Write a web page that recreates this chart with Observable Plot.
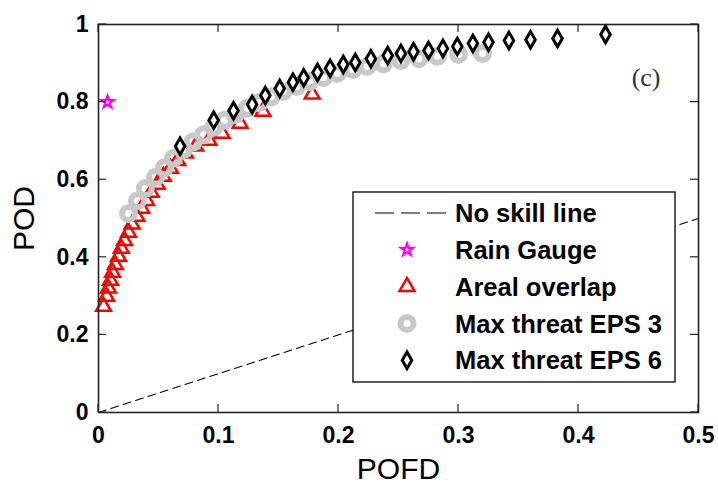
<!DOCTYPE html>
<html>
<head>
<meta charset="utf-8">
<script src="https://cdn.jsdelivr.net/npm/d3@7"></script>
<script src="https://cdn.jsdelivr.net/npm/@observablehq/plot@0.6"></script>
<style>
  body { margin: 0; background: #fff; }
  #chart svg { display: block; }
</style>
</head>
<body>
<div id="chart"></div>
<script>
// ---- data ----
const xTicks = [0, 0.1, 0.2, 0.3, 0.4, 0.5];
const yTicks = [0, 0.2, 0.4, 0.6, 0.8, 1];
const xLabel = "POFD";
const yLabel = "POD";
const panelLabel = "(c)";

const noSkillX = [0, 0.5];
const noSkillY = [0, 0.5];

const gaugeX = [0.0075];
const gaugeY = [0.80];

const arealX = [0.0042, 0.0067, 0.0083, 0.010, 0.0117, 0.014, 0.0167, 0.019, 0.0217, 0.025, 0.028, 0.032, 0.036,
  0.040, 0.044, 0.049, 0.054, 0.060, 0.066, 0.0725, 0.081, 0.092, 0.103, 0.118, 0.137, 0.178];
const arealY = [0.273, 0.299, 0.320, 0.340, 0.361, 0.381, 0.402, 0.423, 0.443, 0.464, 0.485, 0.505, 0.526,
  0.546, 0.567, 0.588, 0.608, 0.629, 0.649, 0.668, 0.686, 0.701, 0.719, 0.745, 0.776, 0.820];

const eps3X = [0.025, 0.0325, 0.039, 0.0475, 0.055, 0.0625, 0.071, 0.079, 0.0875, 0.096, 0.105, 0.114, 0.124, 0.134,
  0.144, 0.154, 0.165, 0.176, 0.1875, 0.199, 0.212, 0.224, 0.2375, 0.252, 0.267, 0.2825, 0.300, 0.320];
const eps3Y = [0.513, 0.546, 0.577, 0.606, 0.631, 0.655, 0.678, 0.698, 0.716, 0.735, 0.753, 0.768, 0.784, 0.799,
  0.814, 0.827, 0.840, 0.853, 0.863, 0.874, 0.884, 0.892, 0.899, 0.907, 0.912, 0.918, 0.923, 0.925];

const eps6X = [0.068, 0.096, 0.1125, 0.128, 0.139, 0.151, 0.162, 0.171, 0.1825, 0.193, 0.204, 0.214, 0.227, 0.241,
  0.252, 0.2625, 0.275, 0.287, 0.299, 0.312, 0.325, 0.342, 0.360, 0.3825, 0.4225];
const eps6Y = [0.686, 0.753, 0.778, 0.794, 0.817, 0.835, 0.851, 0.863, 0.876, 0.887, 0.897, 0.902, 0.912, 0.920,
  0.925, 0.930, 0.933, 0.938, 0.943, 0.951, 0.954, 0.959, 0.961, 0.964, 0.974];

const legendLabels = ["No skill line", "Rain Gauge", "Areal overlap", "Max threat EPS 3", "Max threat EPS 6"];

// ---- styles ----
const RED = "#ff0000", GRAY = "#c8c8c8", MAGENTA = "#ff00ff", INK = "#222";
const sans = "'Liberation Sans', Arial, sans-serif";

const pts = (xs, ys) => xs.map((x, i) => ({x, y: ys[i]}));

const styles = [
  {kind: "line"},
  {symbol: d3.symbolStar, r: 3.8, stroke: MAGENTA, sw: 2.2, fill: "none"},
  {symbol: d3.symbolTriangle, r: 5.5, stroke: RED, sw: 2.5, fill: "none"},
  {symbol: d3.symbolCircle, r: 6.5, stroke: GRAY, sw: 6, fill: "none"},
  {symbol: d3.symbolDiamond, r: 5, stroke: "#000", sw: 3, fill: "#fff"}
];

// inward ticks on all four sides
function boxTicks(index, scales, values, dims) {
  const g = d3.create("svg:g").attr("stroke", INK).attr("stroke-width", 1.2);
  const L = dims.marginLeft, R = dims.width - dims.marginRight;
  const T = dims.marginTop, B = dims.height - dims.marginBottom;
  const len = 8;
  for (const t of xTicks) {
    const px = scales.x(t);
    g.append("line").attr("x1", px).attr("x2", px).attr("y1", B).attr("y2", B - len);
    g.append("line").attr("x1", px).attr("x2", px).attr("y1", T).attr("y2", T + len);
  }
  for (const t of yTicks) {
    const py = scales.y(t);
    g.append("line").attr("y1", py).attr("y2", py).attr("x1", L).attr("x2", L + len);
    g.append("line").attr("y1", py).attr("y2", py).attr("x1", R).attr("x2", R - len);
  }
  return g.node();
}

// legend box inside the plot
function legendMark(index, scales, values, dims) {
  const R = dims.width - dims.marginRight, B = dims.height - dims.marginBottom;
  const bw = 322, bh = 190;
  const bx = R - 23 - bw, by = B - 30 - bh;
  const g = d3.create("svg:g");
  g.append("rect").attr("x", bx).attr("y", by).attr("width", bw).attr("height", bh)
    .attr("fill", "#fff").attr("stroke", "#000").attr("stroke-width", 1.3);
  const rowH = 36.8, top = by + 21;
  const symX = bx + 54, textX = bx + 102;
  legendLabels.forEach((lab, i) => {
    const cy = top + i * rowH;
    const s = styles[i];
    if (s.kind === "line") {
      g.append("line").attr("x1", bx + 22).attr("x2", bx + 94).attr("y1", cy).attr("y2", cy)
        .attr("stroke", "#000").attr("stroke-width", 1.2).attr("stroke-dasharray", "19,7");
    } else {
      g.append("path").attr("transform", `translate(${symX},${cy})`)
        .attr("d", d3.symbol(s.symbol, Math.PI * s.r * s.r)())
        .attr("fill", s.fill).attr("stroke", s.stroke).attr("stroke-width", s.sw);
    }
    g.append("text").attr("x", textX).attr("y", cy).attr("dy", "0.36em")
      .attr("text-anchor", "start")
      .attr("font-family", sans).attr("font-weight", "bold").attr("font-size", 25.5)
      .attr("fill", "#000").text(lab);
  });
  return g.node();
}

const chart = Plot.plot({
  width: 718,
  height: 485,
  marginLeft: 98,
  marginRight: 20,
  marginTop: 24,
  marginBottom: 73,
  style: {fontFamily: sans, background: "#fff", color: "#000"},
  x: {domain: [0, 0.5], ticks: xTicks},
  y: {domain: [0, 1], ticks: yTicks},
  marks: [
    Plot.axisX(xTicks, {tickSize: 0, tickPadding: 14, tickFormat: d => String(d), label: null,
      fontSize: 23, fontWeight: "bold", fill: "#000"}),
    Plot.axisY(yTicks, {tickSize: 0, tickPadding: 10, tickFormat: d => String(d), label: null,
      fontSize: 23, fontWeight: "bold", fill: "#000"}),
    Plot.line(pts(noSkillX, noSkillY), {x: "x", y: "y", stroke: "#000", strokeWidth: 1.1, strokeDasharray: "8,5"}),
    Plot.dot(pts(arealX, arealY), {x: "x", y: "y", symbol: "triangle", r: 5.5, stroke: RED, strokeWidth: 2.5, fill: "none"}),
    Plot.dot(pts(eps3X, eps3Y), {x: "x", y: "y", symbol: "circle", r: 6.5, stroke: GRAY, strokeWidth: 6, fill: "none"}),
    Plot.dot(pts(eps6X, eps6Y), {x: "x", y: "y", symbol: "diamond", r: 5, stroke: "#000", strokeWidth: 3, fill: "#fff"}),
    Plot.dot(pts(gaugeX, gaugeY), {x: "x", y: "y", symbol: "star", r: 3.8, stroke: MAGENTA, strokeWidth: 2.2, fill: "none"}),
    Plot.frame({stroke: INK, strokeWidth: 1.6}),
    boxTicks,
    legendMark,
    Plot.text([panelLabel], {frameAnchor: "top-right", dx: -38, dy: 53, textAnchor: "end", lineAnchor: "middle",
      fontFamily: "'Liberation Serif', 'Times New Roman', serif", fontSize: 26, fill: "#333"}),
    Plot.text([xLabel], {frameAnchor: "bottom", dy: 57, lineAnchor: "middle", fontSize: 30, fill: "#000"}),
    Plot.text([yLabel], {frameAnchor: "left", dx: -74, rotate: -90, lineAnchor: "middle", textAnchor: "middle", fontSize: 30, fill: "#000"})
  ]
});
document.getElementById("chart").appendChild(chart);
</script>
</body>
</html>
